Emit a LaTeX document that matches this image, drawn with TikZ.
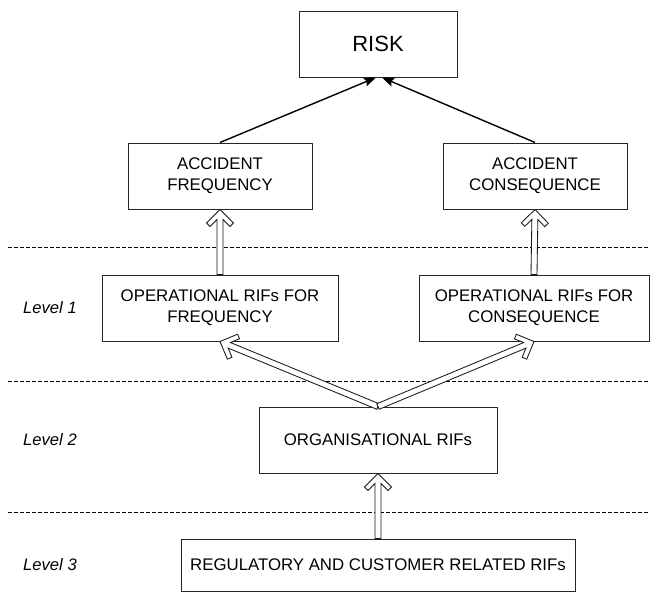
\documentclass[tikz,border=0pt]{standalone}
\usepackage{fontspec}
\setmainfont{Liberation Sans}
\usetikzlibrary{arrows.meta,calc}
\tikzset{
  box/.style={draw=black!85, line width=1pt, fill=white, align=center, inner sep=0pt,
    font=\fontsize{16.8}{21}\selectfont},
  lvl/.style={font=\fontsize{16.6}{20}\selectfont\itshape, inner sep=0pt},
  dline/.style={draw=black, line width=1pt, dash pattern=on 4pt off 2pt},
  solidarrow/.style={draw=black, line width=1.4pt, -{Stealth[length=12pt,width=9pt,inset=2pt]}},
  hollow/.style={draw=black!90, line width=0.85pt, fill=white, line join=miter}
}
\newcommand\hollowarrow[2]{%
  \draw[hollow] let \p1=(#1), \p2=(#2),
      \n1={atan2(\y2-\y1,\x2-\x1)}, \n2={veclen(\x2-\x1,\y2-\y1)} in
    [shift={(\p1)}, rotate=\n1]
    (0pt,-3pt) -- (\n2-10pt,-3pt) -- (\n2-17pt,-10pt) -- (\n2-13.5pt,-13.5pt)
    -- (\n2,0pt) -- (\n2-13.5pt,13.5pt) -- (\n2-17pt,10pt) -- (\n2-10pt,3pt)
    -- (0pt,3pt) -- cycle;%
}
\begin{document}
\begin{tikzpicture}[x=1pt,y=-1pt]
\useasboundingbox (0,0) rectangle (650,603);
% dashed level separators
\coordinate (d1a) at (8,247);  \coordinate (d1b) at (650,247);
\coordinate (d2a) at (8,381);  \coordinate (d2b) at (650,381);
\coordinate (d3a) at (8,512);  \coordinate (d3b) at (650,512);
\draw[dline] (d1a) -- (d1b);
\draw[dline] (d2a) -- (d2b);
\draw[dline] (d3a) -- (d3b);
% boxes
\node[box, minimum width=158pt, minimum height=66pt, font=\fontsize{22}{26}\selectfont] (risk) at (378,44) {RISK};
\node[box, minimum width=184pt, minimum height=66pt] (accf) at (220,176) {ACCIDENT\\FREQUENCY};
\node[box, minimum width=184pt, minimum height=66pt] (accc) at (535,176) {ACCIDENT\\CONSEQUENCE};
\node[box, minimum width=236pt, minimum height=66pt] (opf) at (220,308) {OPERATIONAL RIFs FOR\\FREQUENCY};
\node[box, minimum width=230pt, minimum height=66pt] (opc) at (534,308) {OPERATIONAL RIFs FOR\\CONSEQUENCE};
\node[box, minimum width=238pt, minimum height=66pt] (org) at (378,440) {ORGANISATIONAL RIFs};
\node[box, minimum width=394pt, minimum height=52pt] (reg) at (378,565) {REGULATORY AND CUSTOMER RELATED RIFs};
% level labels
\node[lvl] (l1) at (50,308) {Level 1};
\node[lvl] (l2) at (50,440) {Level 2};
\node[lvl] (l3) at (50,565) {Level 3};
% solid arrows to RISK
\draw[solidarrow] (accf.north) -- ([xshift=-2pt]risk.south);
\draw[solidarrow] (accc.north) -- ([xshift=4pt]risk.south);
% hollow arrows
\hollowarrow{opf.north}{accf.south}
\hollowarrow{opc.north}{accc.south}
\hollowarrow{org.north}{opf.south}
\hollowarrow{org.north}{opc.south}
\hollowarrow{reg.north}{org.south}
\end{tikzpicture}
\end{document}
